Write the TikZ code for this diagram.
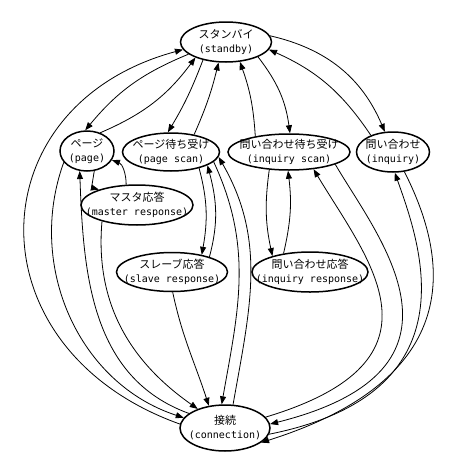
\documentclass[tikz,border=0pt]{standalone}
\usepackage{fontspec}
\newfontfamily\jpfont{Noto Sans CJK JP}
\newfontfamily\monofam{DejaVu Sans Mono}
\newcommand\entext[1]{{\monofam\fontsize{10}{14}\selectfont #1}}
\usetikzlibrary{arrows.meta,shapes.geometric}

\begin{document}
\begin{tikzpicture}[x=1pt, y=-1pt,
  state/.style={ellipse, draw, line width=1.5pt, inner xsep=-30pt, inner ysep=-12pt,
                align=center, font=\jpfont\fontsize{11}{14}\selectfont},
  arr/.style={-{Triangle[length=8pt,width=6pt]}, line width=0.8pt}
]
\useasboundingbox (0,0) rectangle (450,469);

\node[state, minimum width=91pt, minimum height=40pt] (standby) at (226,42) {スタンバイ\\\entext{(standby)}};
\node[state, minimum width=54pt, minimum height=40pt] (page) at (87,151) {ページ\\\entext{(page)}};
\node[state, minimum width=97pt, minimum height=38pt] (pagescan) at (171,152) {ページ待ち受け\\\entext{(page scan)}};
\node[state, minimum width=122pt, minimum height=36pt] (inqscan) at (289,152) {問い合わせ待ち受け\\\entext{(inquiry scan)}};
\node[state, minimum width=73pt, minimum height=40pt] (inquiry) at (393,152) {問い合わせ\\\entext{(inquiry)}};
\node[state, minimum width=112pt, minimum height=40pt] (masterresp) at (137,205) {マスタ応答\\\entext{(master response)}};
\node[state, minimum width=111pt, minimum height=39pt] (slaveresp) at (172,272) {スレーブ応答\\\entext{(slave response)}};
\node[state, minimum width=116pt, minimum height=40pt] (inqresp) at (310,272) {問い合わせ応答\\\entext{(inquiry response)}};
\node[state, minimum width=90pt, minimum height=46pt] (conn) at (225,428) {接続\\\entext{(connection)}};

% standby
\draw[arr] (conn.175) .. controls +(-210,-75) and +(-208,56) .. (standby.190);
\draw[arr] (standby.198) to[bend right=14] (page.95);
\draw[arr] (page.54) to[bend right=15] (standby.207);
\draw[arr] (standby.218) to[bend left=5] (pagescan.99);
\draw[arr] (pagescan.37) to[bend right=5] (standby.250);
\draw[arr] (standby.335) to[bend left=15] (inqscan.87);
\draw[arr] (inqscan.155) to[bend right=8] (standby.305);
\draw[arr] (standby.8) to[bend left=27] (inquiry.112);
\draw[arr] (inquiry.143) to[bend right=16] (standby.350);

% page side
\draw[arr] (page.290) to[out=-100,in=165] (masterresp.158);
\draw[arr] (masterresp.118) to[out=90,in=-20] (page.340);
\draw[arr] (masterresp.205) to[out=-95,in=145] (conn.145);
\draw[arr] (page.206) to[out=-110,in=162] (conn.166);
\draw[arr] (conn.158) to[out=160,in=-88] (page.250);

% page scan side
\draw[arr] (pagescan.-30) to[out=-75,in=80] (slaveresp.30);
\draw[arr] (slaveresp.22) to[out=75,in=-75] (pagescan.-20);
\draw[arr] (slaveresp.-88) to[out=-78,in=108] (conn.126);
\draw[arr] (pagescan.-13) to[out=-65,in=80] (conn.98);
\draw[arr] (conn.71) to[out=80,in=-60] (pagescan.-6);

% inquiry side
\draw[arr] (inqscan.222) to[bend right=10] (inqresp.157);
\draw[arr] (inqresp.145) to[bend right=10] (inqscan.267);
\draw[arr] (inqscan.-15) .. controls +(42,72) and +(219,-55) .. (conn.5);
\draw[arr] (conn.15) .. controls +(190,-57) and +(54,90) .. (inqscan.-35);
\draw[arr] (inquiry.-60) .. controls +(39,77) and +(215,-68) .. (conn.-22);
\draw[arr] (conn.-8) .. controls +(205,-41) and +(26,73) .. (inquiry.-85);
\end{tikzpicture}
\end{document}
